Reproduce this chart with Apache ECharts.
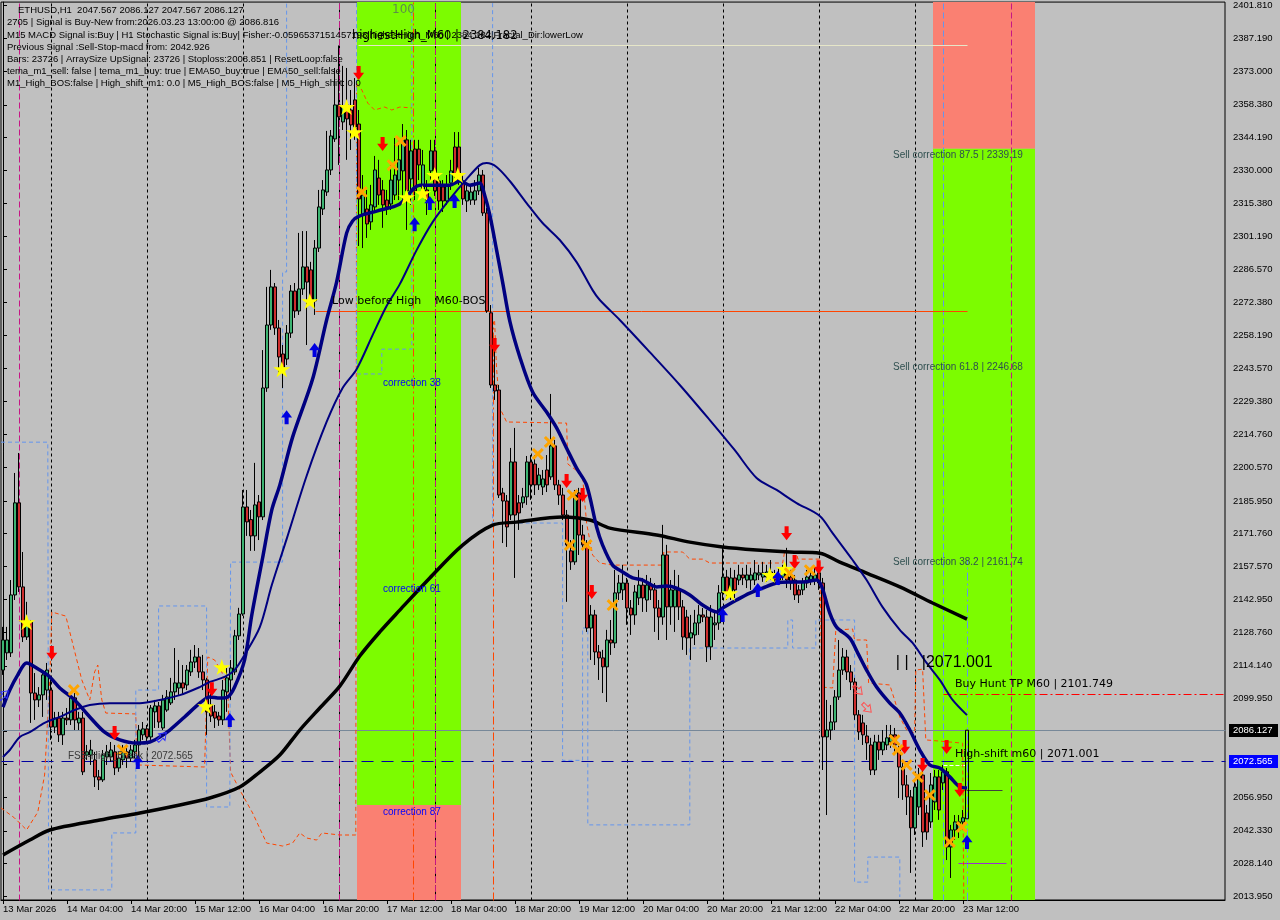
<!DOCTYPE html>
<html><head><meta charset="utf-8">
<script src="https://cdn.jsdelivr.net/npm/echarts@6/dist/echarts.min.js"></script>
<style>html,body{margin:0;padding:0;background:#c0c0c0;}#c{width:1280px;height:920px;}</style>
</head><body><div id="c"></div><script>
// ---------- DATA ----------
const xTickLabels = ['13 Mar 2026','14 Mar 04:00','14 Mar 20:00','15 Mar 12:00','16 Mar 04:00','16 Mar 20:00','17 Mar 12:00','18 Mar 04:00','18 Mar 20:00','19 Mar 12:00','20 Mar 04:00','20 Mar 20:00','21 Mar 12:00','22 Mar 04:00','22 Mar 20:00','23 Mar 12:00'];
const yTicks = [2401.810,2387.190,2373.000,2358.380,2344.190,2330.000,2315.380,2301.190,2286.570,2272.380,2258.190,2243.570,2229.380,2214.760,2200.570,2185.950,2171.760,2157.570,2142.950,2128.760,2114.140,2099.950,2085.760,2071.140,2056.950,2042.330,2028.140,2013.950];
// [open, close, low, high] ETHUSD H1 from 13 Mar 12:00
const candles = [
[2112.3,2125.4,2110.2,2131.1],[2119.8,2125.4,2116.7,2131.1],[2119.8,2145.0,2118.0,2151.5],[2145.0,2185.1,2142.8,2198.1],[2185.1,2148.5,2146.3,2206.8],
[2148.5,2126.7,2124.5,2163.7],[2126.7,2133.2,2125.4,2142.0],[2133.2,2102.3,2089.3,2134.1],[2102.3,2099.3,2090.6,2111.0],[2099.3,2101.5,2096.2,2104.9],
[2101.5,2110.2,2091.9,2112.3],[2103.6,2112.3,2099.3,2115.4],[2103.6,2087.5,2081.9,2108.0],[2087.5,2091.4,2084.9,2094.1],[2091.4,2084.1,2081.0,2094.1],
[2084.1,2091.4,2079.7,2094.1],[2091.4,2090.6,2088.4,2095.8],[2090.6,2100.2,2088.4,2102.3],[2100.2,2090.6,2086.2,2102.3],[2089.3,2091.4,2086.2,2094.1],
[2091.4,2068.0,2066.6,2094.1],[2075.3,2076.7,2073.2,2079.7],[2075.3,2077.5,2071.0,2081.9],[2073.2,2065.8,2061.4,2076.7],[2065.8,2064.5,2060.1,2068.8],
[2064.5,2075.3,2063.6,2077.5],[2074.5,2076.7,2071.0,2079.7],[2074.5,2077.5,2072.3,2081.0],[2076.7,2069.7,2066.6,2079.7],[2069.7,2074.0,2068.0,2076.7],
[2073.2,2076.7,2071.0,2079.7],[2076.7,2074.0,2069.7,2078.4],[2074.0,2077.5,2072.3,2079.7],[2076.7,2079.7,2074.0,2081.9],[2079.7,2086.2,2073.2,2088.4],
[2084.1,2086.7,2081.9,2089.7],[2086.7,2083.2,2081.0,2088.4],[2083.2,2095.8,2081.9,2097.1],[2094.1,2096.7,2087.1,2099.3],[2096.7,2089.7,2087.1,2098.4],
[2087.1,2099.3,2086.2,2101.5],[2094.9,2100.6,2094.1,2103.6],[2098.0,2102.8,2097.1,2108.9],[2102.8,2106.7,2099.3,2121.9],[2104.5,2106.7,2101.5,2116.7],
[2106.7,2104.5,2101.5,2114.5],[2105.8,2112.3,2103.6,2114.5],[2111.5,2115.8,2109.7,2121.1],[2115.8,2118.0,2113.2,2123.2],[2118.0,2111.5,2108.9,2121.9],
[2111.5,2108.0,2103.6,2118.9],[2108.0,2094.1,2084.1,2108.9],[2097.1,2092.3,2089.7,2103.6],[2094.1,2091.4,2087.1,2097.1],[2092.3,2090.6,2088.0,2094.1],
[2090.6,2103.6,2088.4,2108.0],[2102.8,2108.9,2094.1,2113.2],[2108.0,2113.2,2099.3,2116.7],[2111.5,2127.2,2110.2,2129.8],[2127.2,2136.7,2125.4,2139.4],
[2136.7,2183.3,2135.9,2190.7],[2183.3,2176.8,2170.7,2190.7],[2177.8,2170.7,2164.2,2182.0],[2170.7,2184.2,2164.2,2202.5],[2185.5,2179.0,2168.9,2188.5],
[2179.0,2235.1,2177.6,2251.6],[2235.1,2262.5,2233.4,2279.1],[2262.5,2279.1,2260.4,2286.5],[2279.1,2261.2,2258.2,2280.8],[2261.2,2248.6,2241.2,2264.7],
[2249.9,2244.2,2235.1,2253.8],[2247.7,2259.0,2245.1,2262.5],[2259.0,2277.3,2256.9,2279.9],[2277.3,2268.6,2265.6,2280.8],[2268.6,2278.2,2266.9,2302.6],
[2278.2,2287.8,2275.6,2303.4],[2287.8,2281.2,2253.8,2303.4],[2286.5,2273.0,2271.2,2290.0],[2273.0,2296.0,2266.9,2299.5],[2296.0,2313.9,2294.3,2321.3],
[2313.0,2321.3,2310.4,2325.6],[2320.4,2330.0,2318.7,2347.0],[2330.0,2344.8,2327.8,2347.4],[2343.5,2358.3,2342.2,2374.4],[2358.3,2353.1,2332.2,2384.2],
[2350.9,2357.4,2347.4,2375.3],[2358.3,2352.2,2334.4,2374.4],[2356.1,2349.6,2338.7,2364.8],[2360.5,2348.7,2343.1,2370.0],[2350.0,2317.4,2296.9,2356.1],
[2310.4,2319.1,2296.0,2327.8],[2313.0,2306.5,2300.4,2321.3],[2307.4,2314.8,2303.9,2323.5],[2313.9,2330.0,2311.7,2336.1],[2326.5,2319.1,2314.8,2334.4],
[2321.3,2314.8,2304.8,2325.6],[2316.9,2313.9,2310.4,2321.3],[2315.2,2325.6,2312.6,2332.2],[2319.1,2327.8,2316.9,2343.9],[2325.6,2334.4,2316.9,2343.1],
[2329.6,2343.1,2316.9,2350.0],[2343.1,2320.9,2303.9,2347.4],[2326.1,2338.3,2314.8,2343.1],[2339.1,2320.9,2316.9,2343.1],[2339.1,2332.2,2325.6,2343.1],
[2321.7,2332.2,2319.1,2338.7],[2321.3,2316.9,2310.4,2325.6],[2329.6,2338.3,2325.6,2343.1],[2338.3,2320.9,2318.7,2343.1],[2325.2,2316.5,2312.6,2327.8],
[2322.6,2316.5,2311.7,2325.6],[2316.5,2323.5,2314.8,2327.8],[2324.3,2329.6,2321.3,2334.4],[2340.0,2327.8,2325.6,2346.5],[2340.0,2325.2,2323.5,2346.5],
[2325.2,2317.4,2314.8,2327.8],[2316.5,2320.9,2311.7,2323.5],[2316.9,2320.4,2314.8,2323.5],[2316.9,2320.9,2314.8,2325.6],[2320.9,2327.8,2319.1,2330.9],
[2327.8,2311.3,2310.0,2330.0],[2311.3,2268.6,2267.8,2313.5],[2267.8,2236.4,2235.1,2271.2],[2236.4,2233.8,2229.9,2253.8],[2234.2,2188.5,2187.2,2236.4],
[2189.4,2185.9,2167.6,2191.6],[2185.9,2174.6,2165.9,2188.5],[2179.8,2202.9,2177.6,2209.0],[2202.9,2179.8,2152.4,2217.7],[2185.1,2180.7,2173.3,2188.5],
[2185.1,2187.7,2182.9,2191.6],[2187.7,2202.9,2184.2,2205.5],[2202.9,2192.9,2186.4,2205.9],[2202.0,2192.9,2188.5,2205.9],[2192.9,2197.2,2190.7,2200.3],
[2192.0,2195.5,2188.5,2199.4],[2199.4,2192.9,2189.8,2205.9],[2196.4,2209.9,2195.1,2232.5],[2209.9,2192.9,2190.7,2212.5],[2192.9,2188.5,2184.2,2195.1],
[2188.5,2179.8,2177.6,2191.6],[2179.8,2166.8,2142.0,2182.0],[2164.2,2159.4,2155.9,2168.9],[2159.4,2188.5,2158.1,2190.7],[2189.4,2171.1,2162.4,2191.6],
[2171.1,2166.8,2164.6,2175.5],[2166.8,2130.6,2128.9,2168.9],[2130.6,2136.3,2116.7,2140.6],[2136.3,2120.2,2114.5,2138.5],[2120.2,2117.6,2108.0,2123.2],
[2117.6,2113.7,2102.3,2121.1],[2113.7,2125.4,2098.4,2129.8],[2125.4,2124.1,2118.9,2134.1],[2124.1,2145.9,2121.9,2155.9],[2145.9,2150.2,2142.8,2153.7],
[2147.2,2150.2,2142.8,2158.1],[2150.2,2139.3,2132.0,2152.4],[2139.3,2136.3,2127.6,2142.8],[2136.3,2146.3,2132.0,2149.3],[2143.7,2149.3,2140.6,2155.9],
[2149.3,2143.7,2137.6,2152.4],[2142.8,2149.3,2137.6,2153.7],[2149.3,2147.2,2142.8,2152.4],[2147.2,2139.3,2128.9,2150.2],[2139.3,2135.4,2125.4,2142.8],
[2135.4,2162.4,2132.0,2175.5],[2162.4,2139.8,2125.4,2166.8],[2139.8,2147.2,2132.0,2151.5],[2139.8,2147.2,2128.9,2155.9],[2147.2,2139.8,2134.1,2153.7],
[2139.8,2126.7,2121.1,2142.8],[2135.4,2126.3,2118.9,2138.5],[2126.3,2128.5,2116.7,2136.3],[2127.6,2132.8,2123.2,2138.5],[2132.8,2136.3,2127.6,2140.6],
[2136.3,2135.4,2133.2,2139.3],[2135.4,2122.4,2115.8,2138.5],[2122.4,2135.4,2116.7,2140.6],[2132.0,2132.8,2125.4,2138.5],[2132.8,2145.9,2129.8,2149.3],
[2145.9,2152.8,2142.8,2165.9],[2152.8,2145.9,2142.8,2155.9],[2145.9,2152.4,2142.8,2156.8],[2152.4,2147.2,2143.7,2155.9],[2151.5,2153.7,2149.3,2158.1],
[2153.7,2152.4,2149.3,2156.8],[2151.5,2153.7,2148.0,2158.1],[2151.5,2153.7,2147.2,2156.8],[2151.5,2154.6,2149.3,2160.2],[2153.7,2154.6,2151.5,2158.1],
[2152.8,2154.6,2150.7,2159.4],[2152.8,2155.0,2150.7,2158.1],[2155.0,2153.3,2151.5,2160.2],[2153.3,2151.5,2149.3,2155.9],[2151.5,2153.7,2149.3,2156.8],
[2152.8,2154.6,2151.5,2158.1],[2154.6,2151.5,2148.0,2165.5],[2152.8,2150.2,2147.2,2155.9],[2151.5,2145.0,2142.8,2153.7],[2147.2,2145.0,2141.5,2149.3],
[2147.2,2150.7,2145.0,2152.4],[2150.2,2152.8,2148.0,2155.9],[2151.5,2153.3,2149.3,2155.9],[2151.5,2153.7,2149.3,2156.8],[2154.6,2150.2,2147.2,2158.1],
[2150.2,2083.2,2068.8,2152.4],[2083.2,2086.2,2049.2,2099.3],[2086.2,2089.7,2081.9,2097.1],[2089.7,2100.6,2086.2,2103.6],[2100.6,2112.3,2099.3,2125.4],
[2112.3,2118.0,2110.2,2121.9],[2118.0,2111.5,2108.0,2121.1],[2111.5,2107.1,2103.6,2114.5],[2107.1,2092.8,2090.6,2108.9],[2092.8,2085.4,2081.9,2094.9],
[2089.3,2084.1,2079.7,2092.8],[2083.6,2080.6,2073.2,2088.4],[2079.7,2068.8,2066.6,2082.8],[2068.8,2081.0,2066.6,2084.1],[2081.0,2077.5,2073.2,2084.1],
[2077.5,2081.0,2075.3,2086.2],[2079.7,2082.8,2077.5,2088.4],[2081.0,2084.1,2078.4,2088.4],[2084.1,2079.7,2075.3,2087.1],[2077.5,2070.1,2056.6,2079.7],
[2070.1,2062.3,2055.8,2073.2],[2062.3,2057.1,2049.2,2066.6],[2057.1,2043.6,2024.0,2060.1],[2043.6,2061.4,2040.5,2064.5],[2052.7,2066.6,2049.2,2069.7],
[2066.6,2041.8,2035.3,2068.8],[2050.1,2041.8,2038.4,2053.6],[2046.2,2062.3,2043.6,2067.5],[2054.9,2065.8,2051.4,2068.8],[2065.8,2051.4,2047.1,2068.8],
[2063.2,2068.0,2060.1,2071.0],[2068.0,2035.3,2029.6,2069.7],[2035.3,2042.7,2021.8,2044.9],[2042.7,2046.2,2038.4,2049.2],[2042.7,2046.2,2039.2,2049.2],
[2046.2,2048.0,2042.7,2051.4],[2047.567,2086.127,2047.567,2086.127]
];
// moving averages [barIndex, price]
const maFast = [[0,2096.2],[1.7,2103.6],[3.7,2110.2],[5.9,2115.4],[9.2,2112.3],[11.7,2109.3],[14.2,2104.5],[17.9,2099.3],[21.7,2091.9],[25.4,2085.3],[29.2,2081.9],[33.4,2080.5],[36.7,2081.0],[39.2,2083.2],[41.7,2086.2],[45.4,2091.9],[49.2,2097.9],[51.7,2100.6],[54.2,2100.1],[56.2,2100.6],[57.9,2104.9],[60.4,2116.7],[62.2,2136.3],[64.9,2161.1],[67.2,2182.0],[69.2,2192.8],[72.4,2213.7],[77.4,2239.0],[80.9,2264.7],[83.4,2281.2],[85.9,2302.5],[87.4,2307.8],[89.2,2310.0],[93.4,2312.1],[99.2,2315.2],[104.2,2323.4],[111.7,2323.4],[114.2,2325.2],[116.7,2323.4],[119.2,2324.3],[120.4,2319.1],[121.7,2310.4],[123.4,2295.1],[124.9,2281.2],[126.7,2264.2],[129.2,2248.6],[132.4,2233.3],[135.9,2224.6],[138.4,2217.7],[140.9,2208.9],[143.4,2200.2],[145.9,2192.8],[148.4,2174.6],[149.9,2166.7],[152.4,2158.0],[154.9,2155.0],[157.4,2152.4],[159.9,2151.5],[163.4,2148.5],[165.9,2148.9],[168.4,2148.0],[171.7,2145.0],[174.9,2140.6],[178.4,2137.6],[179.9,2139.3],[183.4,2142.8],[186.7,2145.8],[189.9,2148.0],[193.4,2150.2],[196.7,2150.6],[199.9,2150.6],[203.4,2151.5],[204.7,2148.5],[206.7,2137.1],[208.4,2131.0],[211.7,2126.2],[213.7,2119.7],[215.9,2112.3],[218.4,2104.9],[221.7,2097.9],[224.2,2093.6],[226.7,2086.2],[229.2,2077.5],[231.7,2071.0],[234.2,2069.7],[236.7,2065.8],[239.2,2061.4],[241,2061.0]];
const maMid = [[0,2074.5],[1.7,2077.5],[4.2,2083.2],[6.7,2085.3],[10.4,2089.3],[14.2,2091.9],[17.9,2094.9],[21.7,2097.1],[26.7,2097.9],[34.2,2097.9],[39.2,2099.3],[44.2,2101.4],[49.2,2104.9],[51.7,2107.1],[55.4,2109.3],[57.9,2112.3],[60.4,2118.9],[64.2,2131.0],[67.2,2149.3],[70.9,2169.3],[75.9,2196.8],[80.9,2220.3],[84.9,2235.1],[88.4,2243.3],[92.4,2258.1],[95.9,2270.8],[99.2,2280.3],[103.4,2295.1],[107.4,2307.3],[111.7,2317.3],[115.9,2326.0],[119.2,2332.1],[120.9,2333.0],[123.4,2331.3],[126.7,2325.2],[130.9,2315.6],[134.9,2306.9],[139.2,2299.5],[143.4,2289.9],[147.4,2277.7],[149.2,2273.4],[154.2,2264.7],[161.7,2250.7],[169.2,2236.4],[176.7,2221.1],[182.9,2208.1],[188.4,2195.9],[193.4,2190.7],[198.4,2185.0],[204.2,2179.4],[207.4,2171.9],[212.4,2160.2],[215.9,2151.5],[219.9,2139.7],[224.2,2129.8],[227.4,2124.1],[230.9,2115.4],[234.2,2108.0],[237.4,2099.3],[241,2092.7]];
const maSlow = [[0,2031.8],[6.7,2038.3],[11.7,2042.7],[24.2,2047.0],[34.2,2050.1],[44.2,2053.6],[51.7,2056.6],[59.2,2061.4],[64.2,2067.9],[69.2,2075.3],[74.2,2086.2],[79.2,2095.8],[84.2,2105.3],[89.2,2118.4],[94.2,2128.9],[99.2,2138.4],[106.7,2152.4],[114.9,2166.7],[122.4,2175.4],[128.4,2176.7],[139.9,2178.9],[146.7,2177.6],[151.7,2174.1],[163.4,2171.1],[171.7,2168.0],[179.9,2165.9],[188.4,2164.6],[196.7,2163.7],[204.2,2163.2],[209.2,2159.3],[215.9,2154.5],[224.2,2148.5],[232.4,2141.5],[241,2134.5]];
// dashed step levels [barIndex, price]
const orangeA = [[-0.5,2052.3],[2.9,2047.9],[5.9,2042.7],[8.7,2050.5],[10.4,2066.6],[11.7,2108.0],[12.2,2137.6],[15.7,2135.8],[17.2,2125.4],[19.7,2108.0],[21.7,2099.3],[22.9,2111.5],[23.7,2114.5],[24.7,2099.3],[25.7,2093.6],[33.2,2093.2],[33.4,2071.0],[50.4,2070.1],[51.2,2118.0],[52.9,2116.7],[54.7,2111.5],[56.2,2103.6],[56.9,2067.9],[59.2,2060.1],[62.4,2050.1],[65.9,2037.0],[69.9,2035.7],[72.4,2037.0],[74.2,2041.4],[75.9,2039.2],[78.4,2038.3],[79.7,2041.4],[84.2,2040.5],[88.2,2040.5],[88.4,2367.8],[89.7,2364.8],[91.2,2359.1],[92.9,2356.1],[95.4,2357.4],[97.2,2356.1],[99.2,2357.4],[102.2,2357.0]];
const orangeB = [[122.9,2264.2],[123.4,2243.3],[124.2,2226.4],[125.9,2220.3],[140.9,2219.8],[141.2,2202.0],[144.2,2198.1],[144.9,2196.3],[145.9,2176.3],[147.4,2162.4],[149.2,2158.9],[152.4,2158.0],[164.9,2158.0],[165.2,2163.7],[169.9,2163.7],[171.7,2160.6],[174.9,2160.6],[176.7,2158.9],[194.9,2158.9],[195.4,2163.7],[198.4,2163.7],[198.7,2160.6],[204.2,2160.6],[204.7,2104.9],[207.4,2104.5],[208.2,2129.7],[212.4,2130.2],[212.9,2125.4],[215.9,2125.4],[216.4,2106.7],[221.7,2105.8],[222.9,2099.3],[224.2,2091.9],[225.9,2086.2],[227.9,2084.9],[228.2,2112.3],[229.9,2112.7],[230.7,2081.9],[239.9,2080.5],[240.2,2012.6]];
const blueA = [[-0.5,2211.5],[11.2,2211.5],[11.4,2016.6],[27.2,2016.6],[27.2,2041.4],[33.2,2041.4],[33.2,2103.6],[38.9,2103.6],[38.9,2140.2],[50.9,2140.2],[50.9,2052.7],[56.7,2052.7],[56.9,2159.3],[69.9,2159.3],[69.9,2285.6],[70.9,2285.6],[70.9,2402.6]];
const blueB = [[88.4,2402.6],[88.4,2241.2],[94.7,2241.2],[94.7,2252.0],[102.2,2252.0],[102.2,2402.6]];
const blueC = [[122.4,2402.6],[122.4,2176.3],[139.9,2176.3],[139.9,2073.0],[144.9,2073.0],[144.9,2130.6],[146.2,2130.6],[146.2,2044.9],[171.7,2044.9],[171.7,2121.9],[196.2,2121.9],[196.2,2134.1],[197.4,2134.1],[197.4,2121.9],[203.2,2121.9],[203.2,2134.1],[212.9,2134.1],[212.9,2020.0],[216.2,2020.0],[216.2,2030.9],[224.2,2030.9],[224.2,2013.5]];
// markers [barIndex, price]
const stars = [[5.9,2133.2],[50.7,2096.6],[54.7,2113.6],[69.7,2243.3],[76.7,2272.9],[85.9,2357.4],[87.9,2346.5],[100.9,2318.2],[104.9,2319.9],[107.9,2327.8],[113.7,2327.8],[181.7,2145.8],[191.7,2153.7],[195.4,2156.3]];
const upArrows = [[33.7,2072.3],[56.7,2090.6],[70.9,2222.4],[77.9,2251.6],[102.9,2306.4],[106.7,2315.6],[112.9,2316.5],[179.9,2136.3],[188.7,2147.2],[193.7,2152.4],[241,2037.5]];
const downArrows = [[12.2,2119.7],[27.9,2084.9],[52.2,2104.0],[88.9,2372.2],[94.9,2341.3],[122.9,2253.8],[140.9,2194.6],[144.9,2188.5],[147.2,2146.3],[195.9,2171.9],[197.9,2159.3],[203.9,2157.1],[225.4,2078.8],[229.9,2071.0],[235.9,2078.8],[239.2,2060.1]];
const xMarks = [[17.7,2103.6],[29.9,2077.5],[89.7,2320.4],[97.4,2332.1],[99.4,2342.6],[133.7,2206.4],[136.7,2211.6],[142.4,2188.5],[141.7,2166.7],[145.9,2166.7],[152.4,2140.6],[196.7,2154.5],[201.7,2155.8],[222.9,2081.8],[223.7,2077.5],[225.9,2071.0],[228.7,2065.8],[231.7,2057.9],[236.7,2037.5],[239.7,2044.0]];
const hollowDown = [[213.75,2103.6],[216,2095.8]];
const hollowUp = [[0.25,2101.4],[39.75,2083.2]];
// zones [x0, x1, priceLow, priceHigh]
const zones = [[88.5,114.5,2053.6,2403.1],[88.5,114.5,2012.2,2053.6],[232.5,258,2339.19,2403.1],[232.5,258,2012.2,2339.19]];
const zoneColors = ['#7CFC00','#FA8072','#FA8072','#7CFC00'];
// levels
const lastPrice = 2086.127, fsbHigh = 2072.565, buyHuntTP = 2101.749, highShift = 2071.001, highestHigh = 2384.182, lowBeforeHigh = 2268.6;
const daySeps = [12,36,60,84,108,132,156,180,204,228];

// ---------- CHART ----------
const N = 306;
const cats = []; for (let i = 0; i < N; i++) cats.push(String(i));
const YMIN = 2012.21, YMAX = 2403.08;
const chart = echarts.init(document.getElementById('c'), null, {renderer:'canvas', width:1280, height:920});

const segs = [], segStyles = [];
function seg(x1,p1,x2,p2,st){segs.push([x1,p1,x2,p2]);segStyles.push(st);}
daySeps.forEach(d => seg(d, YMIN, d, YMAX, {stroke:'#000', lineWidth:1, lineDash:[3,3]}));
seg(4, YMIN, 4, YMAX, {stroke:'#C71585', lineWidth:1, lineDash:[6,3]});
seg(84, YMIN, 84, YMAX, {stroke:'#C71585', lineWidth:1, lineDash:[6,3]});
seg(108, YMIN, 108, YMAX, {stroke:'#C71585', lineWidth:1, lineDash:[6,3]});
seg(252, YMIN, 252, YMAX, {stroke:'#C71585', lineWidth:1, lineDash:[6,3]});
seg(102.5, YMIN, 102.5, YMAX, {stroke:'#FF4500', lineWidth:1, lineDash:[8,3,2,3]});
seg(122.6, YMIN, 122.6, 2264.2, {stroke:'#FF4500', lineWidth:1, lineDash:[8,3,2,3]});
seg(235, YMIN, 235, YMAX, {stroke:'#6495ED', lineWidth:1, lineDash:[6,3]});
seg(241, YMIN, 241, 2160, {stroke:'#6495ED', lineWidth:1, lineDash:[8,3,2,3]});
seg(-0.5, lastPrice, 305.5, lastPrice, {stroke:'#778899', lineWidth:1});
seg(-0.5, fsbHigh, 305.5, fsbHigh, {stroke:'#0000A0', lineWidth:1, lineDash:[12,8]});
seg(235, buyHuntTP, 305.5, buyHuntTP, {stroke:'#FF0000', lineWidth:1, lineDash:[8,3,2,3]});
seg(78, lowBeforeHigh, 241, lowBeforeHigh, {stroke:'#FF4500', lineWidth:1});
seg(88.75, highestHigh, 241, highestHigh, {stroke:'#E6E6C8', lineWidth:1});
seg(235, highShift, 240.5, highShift, {stroke:'#FFFFFF', lineWidth:1, lineDash:[4,2]});
seg(240.75, 2060.0, 249.75, 2060.0, {stroke:'#404040', lineWidth:1});
seg(238.75, 2028.3, 250.75, 2028.3, {stroke:'#9932CC', lineWidth:1});

const starPath = 'path://M50,0L61.2,34.5L97.6,34.5L68.2,55.9L79.4,90.5L50,69.1L20.6,90.5L31.8,55.9L2.4,34.5L38.8,34.5Z';
const downPath = 'path://M33,0H67V48H96L50,100L4,48H33Z';
const upPath = 'path://M50,0L96,52H67V100H33V52H4Z';
const xPath = 'path://M18,0L50,32L82,0L100,18L68,50L100,82L82,100L50,68L18,100L0,82L32,50L0,18Z';

const stepLine = (data, color) => ({type:'line', xAxisIndex:1, data, showSymbol:false, symbol:'none', silent:true, z:3,
  lineStyle:{color, width:1, type:[4,3]}});

chart.setOption({
  animation:false,
  backgroundColor:'#C0C0C0',
  grid:{left:1, right:55, top:2, bottom:20, show:true, borderColor:'#000', borderWidth:1, backgroundColor:'transparent'},
  xAxis:[
    {type:'category', data:cats, boundaryGap:true,
     axisLine:{show:true, lineStyle:{color:'#000'}},
     axisTick:{show:true, alignWithLabel:true, length:4, interval:(i)=> i%16===0 && i/16 < xTickLabels.length, lineStyle:{color:'#000'}},
     axisLabel:{show:true, interval:(i)=> i%16===0 && i/16 < xTickLabels.length, formatter:(v,i)=> xTickLabels[i/16] || '', align:'left', color:'#000', fontSize:9.5, fontFamily:'Liberation Sans', margin:4, hideOverlap:false},
     splitLine:{show:false}},
    {type:'value', min:-0.5, max:305.5, show:false}
  ],
  yAxis:{type:'value', position:'right', min:YMIN, max:YMAX,
    axisLine:{show:true, lineStyle:{color:'#000'}},
    axisTick:{show:true, length:4, customValues:yTicks, lineStyle:{color:'#000'}},
    axisLabel:{customValues:yTicks, formatter:(v)=> v.toFixed(3), color:'#000', fontSize:9.5, fontFamily:'Liberation Sans', margin:8},
    splitLine:{show:false}},
  series:[
    {type:'custom', xAxisIndex:1, silent:true, z:0, data:zones,
     renderItem:(params, api)=>{ const a=api.coord([api.value(0), api.value(3)]), b=api.coord([api.value(1), api.value(2)]);
       return {type:'rect', shape:{x:a[0], y:a[1], width:b[0]-a[0], height:b[1]-a[1]}, style:{fill:zoneColors[params.dataIndex]}}; }},
    {type:'custom', xAxisIndex:1, silent:true, z:1, data:segs,
     renderItem:(params, api)=>{ const a=api.coord([api.value(0), api.value(1)]), b=api.coord([api.value(2), api.value(3)]);
       const st = segStyles[params.dataIndex];
       return {type:'line', shape:{x1:Math.round(a[0])+0.5, y1:Math.round(a[1])+0.5, x2:Math.round(b[0])+0.5, y2:Math.round(b[1])+0.5}, style:Object.assign({fill:null}, st)}; }},
    stepLine(orangeA, '#FF4500'), stepLine(orangeB, '#FF4500'),
    stepLine(blueA, '#6495ED'), stepLine(blueB, '#6495ED'), stepLine(blueC, '#6495ED'),
    {type:'candlestick', xAxisIndex:0, z:4, barWidth:3,
     data: candles.map((c,i)=> i===candles.length-1 ? {value:c, itemStyle:{color:'rgba(0,0,0,0)'}} : c),
     itemStyle:{color:'#3CB371', color0:'#CD2E2E', borderColor:'#000', borderColor0:'#000', borderWidth:1}},
    {type:'line', xAxisIndex:1, data:maSlow, smooth:0.3, showSymbol:false, symbol:'none', z:5, lineStyle:{color:'#000', width:3.5}},
    {type:'line', xAxisIndex:1, data:maMid, smooth:0.3, showSymbol:false, symbol:'none', z:5, lineStyle:{color:'#000080', width:2}},
    {type:'line', xAxisIndex:1, data:maFast, smooth:0.3, showSymbol:false, symbol:'none', z:5, lineStyle:{color:'#000080', width:3.5}},
    {type:'scatter', xAxisIndex:1, data:stars, symbol:starPath, symbolSize:[17,16], z:6, itemStyle:{color:'#FFFF00', opacity:1}},
    {type:'scatter', xAxisIndex:1, data:upArrows, symbol:upPath, symbolSize:[11,14], z:6, itemStyle:{color:'#0000E0', opacity:1}},
    {type:'scatter', xAxisIndex:1, data:downArrows, symbol:downPath, symbolSize:[11,14], z:6, itemStyle:{color:'#FF0000', opacity:1}},
    {type:'scatter', xAxisIndex:1, data:xMarks, symbol:xPath, symbolSize:[12,12], z:6, itemStyle:{color:'#FFA500', opacity:1}},
    {type:'scatter', xAxisIndex:1, data:hollowDown, symbol:downPath, symbolRotate:45, symbolSize:[9,12], z:6, itemStyle:{color:'rgba(0,0,0,0)', borderColor:'#FF5050', borderWidth:1, opacity:1}},
    {type:'scatter', xAxisIndex:1, data:hollowUp, symbol:upPath, symbolRotate:-45, symbolSize:[9,12], z:6, itemStyle:{color:'rgba(0,0,0,0)', borderColor:'#3030FF', borderWidth:1, opacity:1}}
  ]
});

// ---------- TEXT ----------
const px = (i,p)=> chart.convertToPixel({xAxisIndex:1, yAxisIndex:0}, [i,p]);
const header = [
  ['ETHUSD,H1  2047.567 2086.127 2047.567 2086.127', 18, 10],
  ['2705 | Signal is Buy-New from:2026.03.23 13:00:00 @ 2086.816', 7, 22],
  ['M15 MACD Signal is:Buy | H1 Stochastic Signal is:Buy| Fisher:-0.0596537151457198|highestHigh_M60 | 2384.182|Fractal_Dir:lowerLow', 7, 35],
  ['Previous Signal :Sell-Stop-macd from: 2042.926', 7, 47],
  ['Bars: 23726 | ArraySize UpSignal: 23726 | Stoploss:2008.851 | ResetLoop:false', 7, 59],
  ['tema_m1_sell: false | tema_m1_buy: true | EMA50_buy:true | EMA50_sell:false', 7, 71],
  ['M1_High_BOS:false | High_shift_m1: 0.0 | M5_High_BOS:false | M5_High_shift: 0.0', 7, 83]
];
const notes = [
  {t:'highestHigh_M60 | 2384.182', i:87.25, p:2388.2, c:'#000', f:'11.5px "DejaVu Sans"'},
  {t:'100', i:97.25, p:2399.6, c:'#5E8C4A', f:'12px "DejaVu Sans"'},
  {t:'Low before High    M60-BOS', i:82.25, p:2272.9, c:'#000', f:'11px "DejaVu Sans"'},
  {t:'correction 38', i:95, p:2237.2, c:'#0000FF', f:'10px "Liberation Sans"'},
  {t:'correction 61', i:95, p:2147.6, c:'#0000FF', f:'10px "Liberation Sans"'},
  {t:'correction 87', i:95, p:2050.5, c:'#0000FF', f:'10px "Liberation Sans"'},
  {t:'Sell correction 87.5 | 2339.19', i:222.5, p:2336.5, c:'#2F4F4F', f:'10px "Liberation Sans"'},
  {t:'Sell correction 61.8 | 2246.68', i:222.5, p:2244.2, c:'#2F4F4F', f:'10px "Liberation Sans"'},
  {t:'Sell correction 38.2 | 2161.74', i:222.5, p:2159.3, c:'#2F4F4F', f:'10px "Liberation Sans"'},
  {t:'Buy Hunt TP M60 | 2101.749', i:238, p:2106.2, c:'#000', f:'11px "DejaVu Sans"'},
  {t:'High-shift m60 | 2071.001', i:238, p:2075.8, c:'#000', f:'11px "DejaVu Sans"'},
  {t:'| |', i:223.2, p:2115.4, c:'#000', f:'16px "Liberation Sans"'},
  {t:'|2071.001', i:229.7, p:2115.4, c:'#000', f:'16px "Liberation Sans"'},
  {t:'FSB-High_Break | 2072.565', i:16.25, p:2074.9, c:'#3A3A3A', f:'10px "Liberation Sans"'}
];
const g = [];
header.forEach(h => g.push({type:'text', x:h[1], y:h[2], z:100, style:{text:h[0], fill:'#000', font:'9.5px "Liberation Sans"', verticalAlign:'middle'}}));
notes.forEach(n => { const q = px(n.i, n.p); g.push({type:'text', x:q[0], y:q[1], z:90, style:{text:n.t, fill:n.c, font:n.f, verticalAlign:'middle'}}); });
function priceBox(p, bg){ const q = px(0,p); g.push({type:'rect', x:1229, y:Math.round(q[1])-6, z:100, shape:{width:49, height:13}, style:{fill:bg}});
  g.push({type:'text', x:1233, y:Math.round(q[1])+0.5, z:101, style:{text:p.toFixed(3), fill:'#fff', font:'9.5px "Liberation Sans"', verticalAlign:'middle'}}); }
priceBox(lastPrice, '#000');
priceBox(fsbHigh, '#0000FF');
chart.setOption({graphic:g});
</script></body></html>
